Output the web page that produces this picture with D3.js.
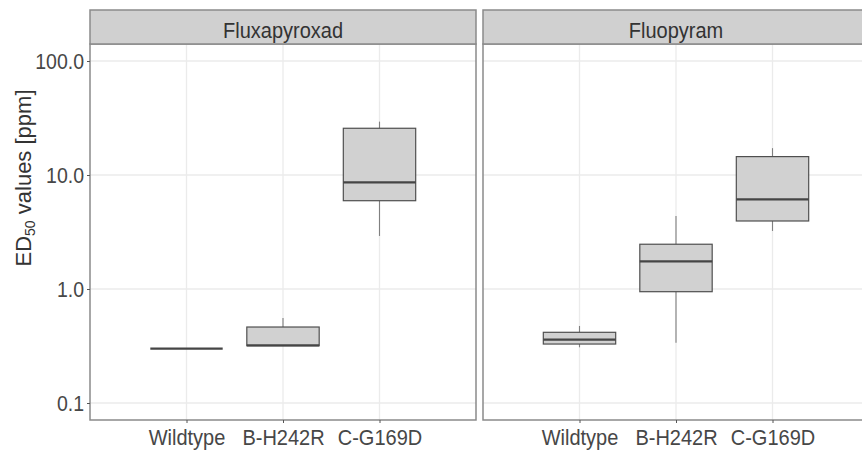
<!DOCTYPE html>
<html>
<head>
<meta charset="utf-8">
<script src="https://cdn.jsdelivr.net/npm/d3@7"></script>
<style>
  html, body { margin: 0; padding: 0; background: #fff; overflow: hidden; }
  text { font-family: "Liberation Sans", Arial, sans-serif; }
</style>
</head>
<body>
<svg id="chart" width="862" height="450"></svg>
<script>
// ---- data ----
const panels = ["Fluxapyroxad", "Fluopyram"];
const categories = ["Wildtype", "B-H242R", "C-G169D"];
const yTicks = [0.1, 1, 10, 100];
const yTickLabels = ["0.1", "1.0", "10.0", "100.0"];
// box stats per category: [lower whisker, Q1, median, Q3, upper whisker]
const fluxapyroxadStats = [
  [0.30, 0.30, 0.30, 0.30, 0.30],
  [0.318, 0.318, 0.32, 0.464, 0.557],
  [2.92, 5.95, 8.63, 25.7, 29.4]
];
const fluopyramStats = [
  [0.308, 0.329, 0.359, 0.417, 0.474],
  [0.338, 0.947, 1.75, 2.47, 4.37],
  [3.23, 3.95, 6.12, 14.5, 17.2]
];
const panelStats = [fluxapyroxadStats, fluopyramStats];

// ---- layout ----
const svg = d3.select("#chart");
const panelLefts = [90, 483];
const panelW = 386;
const stripTop = 10, panelTop = 44, panelBottom = 420;
const stretch = 1.13;

const y = d3.scaleLog().domain([0.1, 100]).range([403, 61]);
const x = d3.scalePoint().domain(categories).range([0, panelW]).padding(1);
const boxW = x.step() * 0.75;

const gridCol = "#ebebeb", borderCol = "#8a8a8a", textCol = "#474747";

panels.forEach((name, pi) => {
  const g = svg.append("g").attr("transform", `translate(${panelLefts[pi]},0)`);
  g.append("rect").attr("x", 0).attr("y", panelTop).attr("width", panelW)
    .attr("height", panelBottom - panelTop).attr("fill", "#fff");
  // grid
  g.selectAll("line.hg").data(yTicks).join("line")
    .attr("x1", 0).attr("x2", panelW)
    .attr("y1", d => y(d)).attr("y2", d => y(d))
    .attr("stroke", gridCol).attr("stroke-width", 1.3);
  g.selectAll("line.vg").data(categories).join("line")
    .attr("x1", d => x(d)).attr("x2", d => x(d))
    .attr("y1", panelTop).attr("y2", panelBottom)
    .attr("stroke", gridCol).attr("stroke-width", 1.3);

  // boxes
  const stats = panelStats[pi];
  categories.forEach((c, ci) => {
    const [lo, q1, med, q3, hi] = stats[ci];
    const cx = x(c);
    g.append("line").attr("x1", cx).attr("x2", cx).attr("y1", y(q3)).attr("y2", y(hi))
      .attr("stroke", "#808080").attr("stroke-width", 1.1);
    g.append("line").attr("x1", cx).attr("x2", cx).attr("y1", y(q1)).attr("y2", y(lo))
      .attr("stroke", "#808080").attr("stroke-width", 1.1);
    g.append("rect").attr("x", cx - boxW / 2).attr("width", boxW)
      .attr("y", y(q3)).attr("height", Math.max(0, y(q1) - y(q3)))
      .attr("fill", "#d1d1d1").attr("stroke", "#4f4f4f").attr("stroke-width", 1.2);
    g.append("line").attr("x1", cx - boxW / 2).attr("x2", cx + boxW / 2)
      .attr("y1", y(med)).attr("y2", y(med))
      .attr("stroke", "#454545").attr("stroke-width", 2.2);
  });

  // panel border
  g.append("rect").attr("x", 0).attr("y", panelTop).attr("width", panelW)
    .attr("height", panelBottom - panelTop).attr("fill", "none")
    .attr("stroke", borderCol).attr("stroke-width", 1.5);
  // strip
  g.append("rect").attr("x", 0).attr("y", stripTop).attr("width", panelW)
    .attr("height", panelTop - stripTop).attr("fill", "#d0d0d0")
    .attr("stroke", borderCol).attr("stroke-width", 1.5);
  g.append("text")
    .attr("transform", `translate(${panelW / 2},37.5) scale(1,${stretch})`)
    .attr("text-anchor", "middle").attr("font-size", 20).attr("fill", "#333")
    .text(name);

  // x axis
  const xa = g.append("g").attr("transform", `translate(0,${panelBottom})`)
    .call(d3.axisBottom(x).tickSize(3).tickPadding(8));
  xa.select(".domain").remove();
  xa.selectAll(".tick line").attr("stroke", "#555");
  xa.selectAll(".tick text").attr("font-size", 20).attr("fill", textCol)
    .attr("font-family", "Liberation Sans, Arial, sans-serif")
    .attr("dy", null).attr("y", 25.5 / stretch)
    .attr("transform", `scale(1,${stretch})`);

  if (pi === 0) {
    const ya = g.append("g")
      .call(d3.axisLeft(y).tickValues(yTicks).tickFormat((d, i) => yTickLabels[i]).tickSize(3).tickPadding(3));
    ya.select(".domain").remove();
    ya.selectAll(".tick line").attr("stroke", "#555");
    ya.selectAll(".tick text").attr("font-size", 19.5).attr("fill", textCol)
      .attr("font-family", "Liberation Sans, Arial, sans-serif")
      .attr("transform", `scale(1,${stretch})`);
  }
});

// y title
const title = svg.append("text")
  .attr("transform", "translate(31,178) rotate(-90)")
  .attr("text-anchor", "middle").attr("font-size", 22).attr("fill", "#333");
title.append("tspan").text("ED");
title.append("tspan").attr("font-size", 14).attr("dy", 4).text("50");
title.append("tspan").attr("dy", -4).text(" values [ppm]");
</script>
</body>
</html>
